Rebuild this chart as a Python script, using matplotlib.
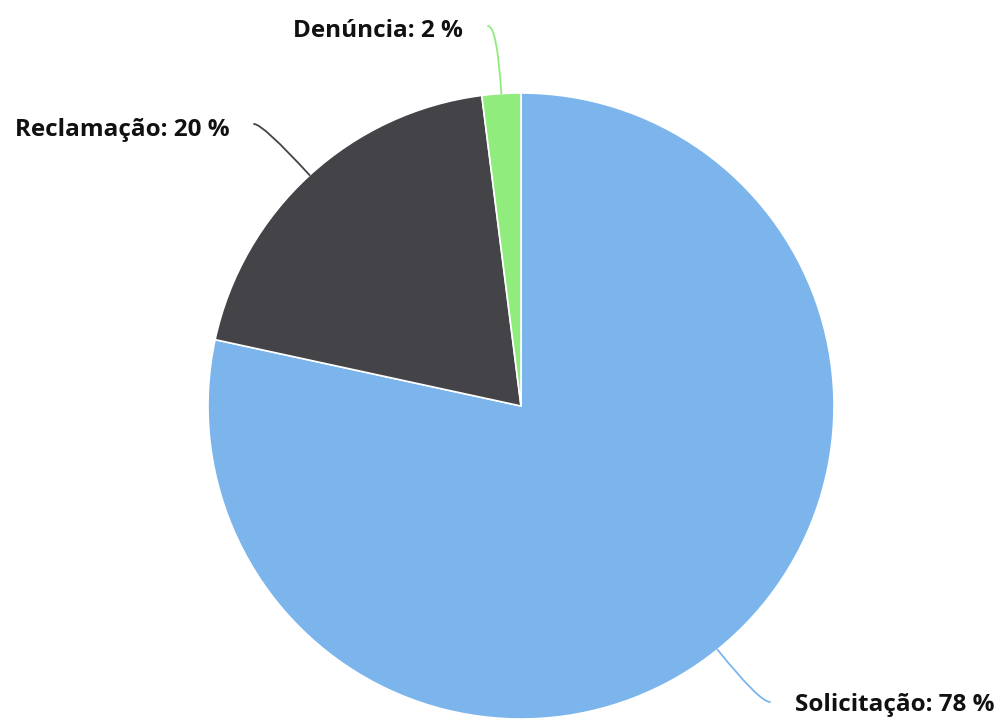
import numpy as np
import matplotlib
matplotlib.use("Agg")
from matplotlib import pyplot as plt

labels = ["Solicitação", "Reclamação", "Denúncia"]
values = [78.4, 19.6, 2.0]
colors = ["#7cb5ec", "#434348", "#90ed7d"]

# label anchor (pixel coords of figure), alignment
label_pos = [(795, 705, "left"), (230, 130, "right"), (463, 31, "right")]
conn_end = [(770, 702), (254, 124), (488, 26)]

W, H = 1006, 720
fig = plt.figure(figsize=(W / 100, H / 100), dpi=100)
ax = fig.add_axes([0, 0, 1, 1])

cx, cy, r = 521, H - 406, 313
wedges, _ = ax.pie(values, colors=colors, startangle=90, counterclock=False,
                   center=(cx, cy), radius=r, frame=True,
                   wedgeprops=dict(edgecolor="white", linewidth=1.2))
ax.set_xlim(0, W)
ax.set_ylim(0, H)
ax.set_aspect("equal")
ax.axis("off")

for w, lab, v, col, (tx, ty, ha), (ex, ey) in zip(wedges, labels, values, colors, label_pos, conn_end):
    mid = np.deg2rad((w.theta1 + w.theta2) / 2)
    px, py = cx + r * np.cos(mid), cy + r * np.sin(mid)
    ax.annotate("", xy=(px, py), xytext=(ex, H - ey),
                arrowprops=dict(arrowstyle="-", color=col, lw=1.3,
                                shrinkA=0, shrinkB=0,
                                connectionstyle="angle3,angleA=0,angleB=%f" % np.rad2deg(mid)))
    ax.text(tx, H - ty, "%s: %d %%" % (lab, round(v)), ha=ha, va="center",
            fontsize=17.5, fontweight="bold", family="Open Sans", color="#111111")

fig.savefig("out.png", dpi=100)
